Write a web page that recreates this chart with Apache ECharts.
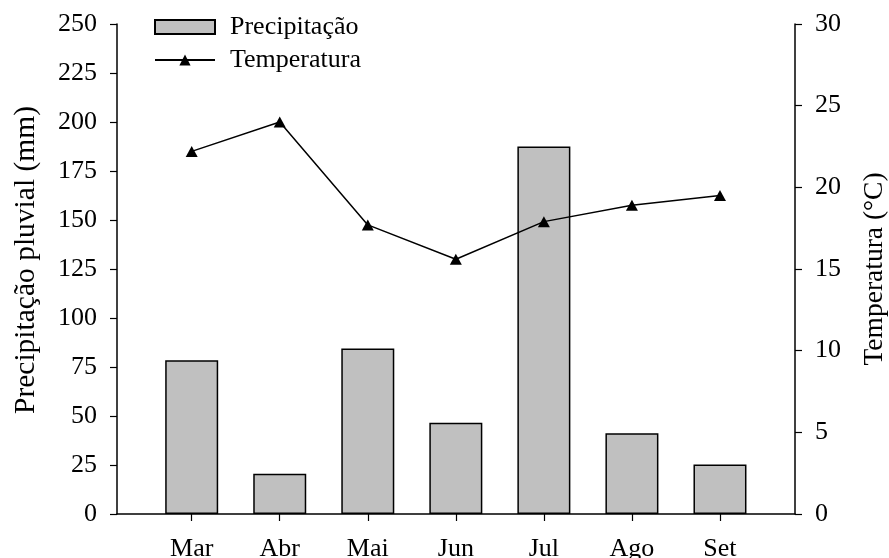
<!DOCTYPE html>
<html>
<head>
<meta charset="utf-8">
<script src="https://cdn.jsdelivr.net/npm/echarts@6/dist/echarts.min.js"></script>
<style>
  html, body { margin: 0; padding: 0; background: #fff; }
  #chart { width: 889px; height: 558px; }
</style>
</head>
<body>
<div id="chart"></div>
<script>
// Monthly rainfall (mm) and mean temperature (°C)
const months = ['Mar', 'Abr', 'Mai', 'Jun', 'Jul', 'Ago', 'Set'];
const precipitacao = [78.5, 20.5, 84.5, 46.5, 187.5, 41.2, 25.2];
const temperatura = [22.2, 24.0, 17.7, 15.6, 17.9, 18.9, 19.5];
const precipTicks = { min: 0, max: 250, step: 25 };
const tempTicks = { min: 0, max: 30, step: 5 };

const FONT = '"Liberation Serif", "Times New Roman", serif';
const black = '#000';

const chart = echarts.init(document.getElementById('chart'), null, { renderer: 'canvas' });

const hiddenAxis = {
  axisLine: { show: false }, axisTick: { show: false },
  axisLabel: { show: false }, splitLine: { show: false }
};

chart.setOption({
  animation: false,
  backgroundColor: '#fff',
  textStyle: { fontFamily: FONT, color: black },
  legend: {
    orient: 'vertical',
    left: 154,
    top: 14,
    padding: 0,
    itemWidth: 60,
    itemHeight: 14,
    itemGap: 7,
    textStyle: { fontFamily: FONT, fontSize: 26, color: black, padding: [0, 0, 0, 10] },
    data: [
      { name: 'Precipitação', icon: 'rect' },
      { name: 'Temperatura' }
    ]
  },
  grid: [
    // frame: full-width baseline and both value axes
    { left: 117, right: 94, top: 24, bottom: 44, containLabel: false, outerBoundsMode: 'none' },
    // category band area holding the bars and line
    { left: 147.67, right: 125, top: 24, bottom: 44, containLabel: false, outerBoundsMode: 'none' }
  ],
  xAxis: [
    {
      gridIndex: 0, type: 'category', data: [''],
      axisLine: { show: true, lineStyle: { color: black, width: 1.5 } },
      axisTick: { show: false }, axisLabel: { show: false }, splitLine: { show: false }
    },
    {
      gridIndex: 1, type: 'category', data: months,
      axisLine: { show: false },
      axisTick: { show: true, alignWithLabel: true, length: 7, lineStyle: { color: black, width: 1.2 } },
      axisLabel: { margin: 22, fontFamily: FONT, fontSize: 26, color: black },
      splitLine: { show: false }
    }
  ],
  yAxis: [
    {
      gridIndex: 0, type: 'value', position: 'left',
      min: precipTicks.min, max: precipTicks.max, interval: precipTicks.step,
      name: 'Precipitação pluvial (mm)', nameLocation: 'middle', nameGap: 76,
      nameTextStyle: { fontFamily: FONT, fontSize: 29.5, color: black, padding: [0, 0, 0, 18] },
      axisLine: { show: true, lineStyle: { color: black, width: 1.5 } },
      axisTick: { show: true, length: 7, lineStyle: { color: black, width: 1.2 } },
      axisLabel: { margin: 20, fontFamily: FONT, fontSize: 26, color: black },
      splitLine: { show: false }
    },
    {
      gridIndex: 0, type: 'value', position: 'right',
      min: tempTicks.min, max: tempTicks.max, interval: tempTicks.step,
      name: 'Temperatura (°C)', nameLocation: 'middle', nameGap: 66,
      nameTextStyle: { fontFamily: FONT, fontSize: 27.5, color: black },
      axisLine: { show: true, lineStyle: { color: black, width: 1.5 } },
      axisTick: { show: true, length: 7, lineStyle: { color: black, width: 1.2 } },
      axisLabel: { margin: 20, fontFamily: FONT, fontSize: 26, color: black },
      splitLine: { show: false }
    },
    Object.assign({ gridIndex: 1, type: 'value', min: precipTicks.min, max: precipTicks.max }, hiddenAxis),
    Object.assign({ gridIndex: 1, type: 'value', position: 'right', min: tempTicks.min, max: tempTicks.max }, hiddenAxis)
  ],
  series: [
    {
      name: 'Precipitação', type: 'bar',
      xAxisIndex: 1, yAxisIndex: 2,
      barWidth: 53,
      itemStyle: { color: '#c0c0c0', borderColor: black, borderWidth: 1.5 },
      data: precipitacao, z: 2
    },
    {
      name: 'Temperatura', type: 'line',
      xAxisIndex: 1, yAxisIndex: 3,
      symbol: 'triangle', symbolSize: [12, 11],
      lineStyle: { color: black, width: 1.5 },
      itemStyle: { color: black },
      data: temperatura, z: 3
    }
  ]
});
</script>
</body>
</html>
